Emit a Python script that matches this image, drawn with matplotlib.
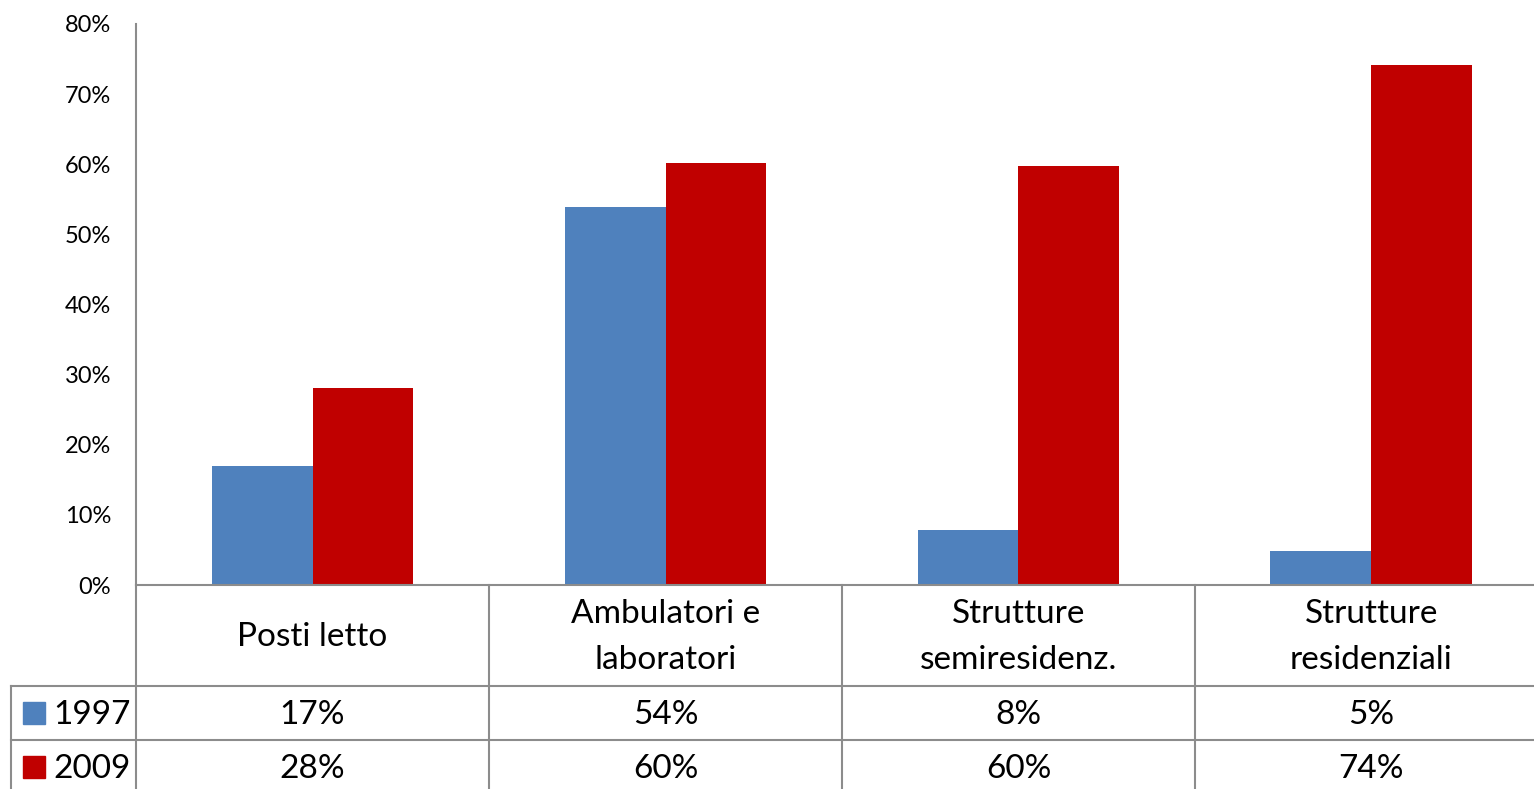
import matplotlib.pyplot as plt
import matplotlib.transforms as mtransforms
from matplotlib.ticker import PercentFormatter
import numpy as np

plt.rcParams['font.family'] = ['Lato', 'DejaVu Sans']

# data
categories = ['Posti letto', 'Ambulatori e\nlaboratori', 'Strutture\nsemiresidenz.', 'Strutture\nresidenziali']
series_names = ['1997', '2009']
vals_1997 = [0.17, 0.539, 0.078, 0.049]
vals_2009 = [0.281, 0.602, 0.598, 0.742]
colors = ['#4F81BD', '#C00000']
grid_col = '#8C8C8C'

W, H = 1534, 789
fig = plt.figure(figsize=(W / 100, H / 100), dpi=100)
# axes: left at x=136, category width 353 px, y from 585 (0%) to 24 (80%)
ax = fig.add_axes([136 / W, 1 - 585 / H, 353 * 4 / W, (585 - 24) / H])

x = np.arange(len(categories))
bw = 101 / 353
ax.bar(x - bw / 2, vals_1997, bw, color=colors[0], label=series_names[0])
ax.bar(x + bw / 2, vals_2009, bw, color=colors[1], label=series_names[1])

ax.set_xlim(-0.5, len(categories) - 0.5)
ax.set_ylim(0, 0.8)
ax.set_yticks(np.arange(0, 0.81, 0.1))
ax.yaxis.set_major_formatter(PercentFormatter(1.0, decimals=0))
ax.tick_params(axis='y', length=0, pad=18, labelsize=17)
ax.set_xticks([])
for sp in ['top', 'right']:
    ax.spines[sp].set_visible(False)
for sp in ['left', 'bottom']:
    ax.spines[sp].set_color(grid_col)
    ax.spines[sp].set_linewidth(1.5)

# data table below the axes
tr = mtransforms.blended_transform_factory(ax.transData, fig.transFigure)
figy = lambda py: 1 - py / H
figx = lambda px: px / W
lw = 1.5
fs = 24

# horizontal rows
for py in [686, 740]:
    fig.add_artist(plt.Line2D([figx(11), 1], [figy(py), figy(py)], color=grid_col, lw=lw))
# vertical dividers between categories
for i in range(len(categories) + 1):
    ax.plot([i - 0.5, i - 0.5], [figy(585), figy(H + 2)], transform=tr, color=grid_col,
            lw=lw, clip_on=False)
fig.add_artist(plt.Line2D([figx(11), figx(11)], [figy(686), 0], color=grid_col, lw=lw))

# header labels
for i, c in enumerate(categories):
    ax.text(i, figy(637), c, transform=tr, ha='center', va='center', fontsize=fs,
            linespacing=1.65, clip_on=False)

# value rows with legend keys
rows = [vals_1997, vals_2009]
row_y = [715, 769]
for r, (vals, py) in enumerate(zip(rows, row_y)):
    fig.add_artist(plt.Rectangle((figx(23), figy(py - 2 + 11)), 22 / W, 22 / H,
                                 color=colors[r], transform=fig.transFigure))
    fig.text(figx(53), figy(py), series_names[r], ha='left', va='center', fontsize=fs)
    for i, v in enumerate(vals):
        ax.text(i, figy(py), '{:.0%}'.format(v), transform=tr, ha='center', va='center',
                fontsize=fs, clip_on=False)

plt.savefig('out.png', dpi=100)
